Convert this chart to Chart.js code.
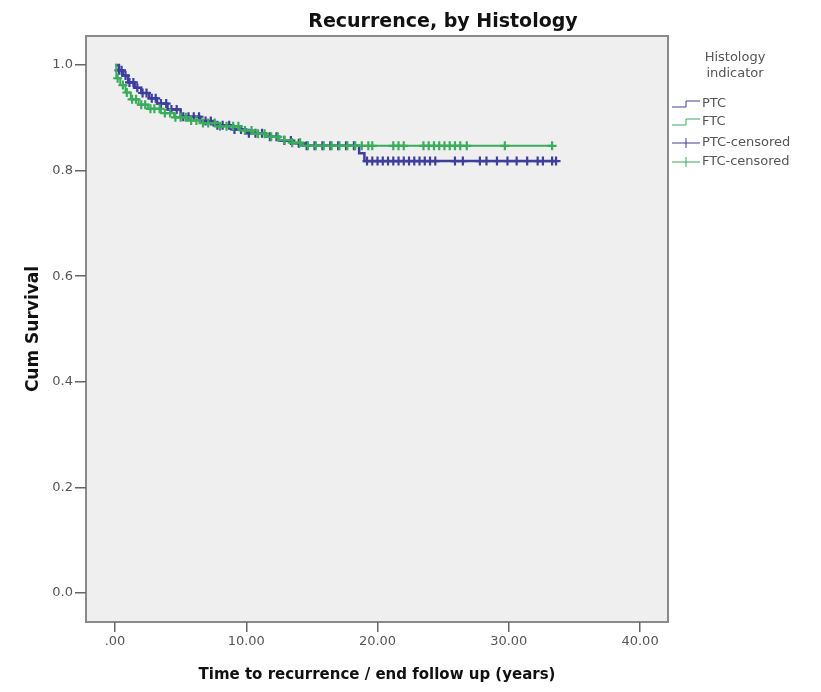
<!DOCTYPE html>
<html>
<head>
<meta charset="utf-8">
<script src="https://cdn.jsdelivr.net/npm/chart.js@4"></script>
<style>
  html, body { margin: 0; padding: 0; background: #ffffff; }
  #wrap { width: 821px; height: 692px; }
</style>
</head>
<body>
<div id="wrap"><canvas id="km" width="821" height="692"></canvas></div>
<script>
"use strict";

// Kaplan-Meier steps: time of each step and survival after it
const ptcTimes = [0, 0.3, 0.6, 1.0, 1.5, 2.0, 2.6, 3.2, 4.0, 5.0, 6.5, 7.5, 9.0, 10.0, 11.5, 12.5, 13.5, 14.5, 18.6, 19.0, 33.6];
const ptcSurv  = [1.0, 0.99, 0.98, 0.967, 0.957, 0.947, 0.937, 0.927, 0.916, 0.902, 0.894, 0.886, 0.878, 0.871, 0.864, 0.857, 0.852, 0.847, 0.833, 0.818, 0.818];

const ftcTimes = [0, 0.1, 0.4, 0.8, 1.2, 1.8, 2.5, 3.5, 4.5, 5.5, 6.5, 8.0, 9.5, 10.5, 11.5, 12.5, 13.5, 14.2, 33.3];
const ftcSurv  = [1.0, 0.975, 0.962, 0.948, 0.935, 0.925, 0.917, 0.909, 0.901, 0.895, 0.890, 0.884, 0.876, 0.870, 0.864, 0.858, 0.853, 0.847, 0.847];

// censored cases (times)
const ptcCensored = [0.3, 0.5, 0.8, 1.1, 1.4, 1.7, 2.1, 2.4, 2.8, 3.1, 3.5, 3.9, 4.3, 4.7, 5.2, 5.6, 6.0, 6.4, 6.9, 7.3, 7.8, 8.2,
  8.7, 9.1, 9.6, 10.2, 10.7, 11.2, 11.8, 12.3, 12.9, 13.4, 14.0, 14.6, 15.2, 15.8, 16.4, 17.0, 17.6, 18.2,
  19.2, 19.6, 20.0, 20.4, 20.8, 21.2, 21.6, 22.0, 22.4, 22.8, 23.2, 23.6, 24.0, 24.4,
  25.9, 26.5, 27.8, 28.3, 29.1, 29.9, 30.6, 31.4, 32.2, 32.6, 33.3, 33.6];
const ftcCensored = [0.2, 0.6, 0.9, 1.3, 1.6, 2.0, 2.3, 2.7, 3.0, 3.4, 3.8, 4.2, 4.6, 5.0, 5.4, 5.8, 6.2, 6.7, 7.1, 7.6, 8.0,
  8.5, 9.0, 9.4, 9.9, 10.4, 10.9, 11.4, 11.9, 12.4, 12.9, 13.5, 14.1, 14.7, 15.3, 15.9, 16.5, 17.1, 17.7, 18.3,
  18.8, 19.3, 19.6, 21.2, 21.6, 22.0, 23.5, 23.9, 24.3, 24.7, 25.1, 25.5, 25.9, 26.3, 26.8, 29.7, 33.3];

const xTicks = [0, 10, 20, 30, 40];
const xTickLabels = [".00", "10.00", "20.00", "30.00", "40.00"];
const yTicks = [0, 0.2, 0.4, 0.6, 0.8, 1.0];
const yTickLabels = ["0.0", "0.2", "0.4", "0.6", "0.8", "1.0"];

const PTC_COLOR = "#3d3f9c";
const FTC_COLOR = "#3aac5c";

// survival value on the step curve at time t
function survAt(times, surv, t) {
    var s = surv[0];
    for (var i = 0; i < times.length; i++) if (times[i] <= t) s = surv[i];
    return s;
}

const ptcLine = ptcTimes.map((t, i) => ({ x: t, y: ptcSurv[i] }));
const ftcLine = ftcTimes.map((t, i) => ({ x: t, y: ftcSurv[i] }));
const ptcMarks = ptcCensored.map(t => ({ x: t, y: survAt(ptcTimes, ptcSurv, t) }));
const ftcMarks = ftcCensored.map(t => ({ x: t, y: survAt(ftcTimes, ftcSurv, t) }));

Chart.defaults.font.family = "'DejaVu Sans', 'Liberation Sans', sans-serif";

// grey plot panel and frame
const panelPlugin = {
    id: "panel",
    beforeDraw(chart) {
        const a = chart.chartArea, ctx = chart.ctx;
        ctx.save();
        ctx.fillStyle = "#efefef";
        ctx.fillRect(a.left, a.top, a.right - a.left, a.bottom - a.top);
        ctx.strokeStyle = "#8a8a8a";
        ctx.lineWidth = 2;
        ctx.strokeRect(a.left, a.top, a.right - a.left, a.bottom - a.top);
        ctx.restore();
    }
};

// title and SPSS-like legend on the right
const textPlugin = {
    id: "texts",
    afterDraw(chart) {
        const ctx = chart.ctx;
        ctx.save();
        ctx.fillStyle = "#111";
        ctx.font = "bold 19px 'DejaVu Sans'";
        ctx.textAlign = "center";
        ctx.textBaseline = "middle";
        ctx.fillText("Recurrence, by Histology", 443, 22);

        ctx.fillStyle = "#555";
        ctx.font = "13px 'DejaVu Sans'";
        ctx.fillText("Histology", 735, 58);
        ctx.fillText("indicator", 735, 74);

        const rows = [104, 122, 143, 162];
        ctx.textAlign = "left";
        chart.data.datasets.forEach((ds, i) => {
            const y = rows[i];
            ctx.strokeStyle = ds.borderColor;
            ctx.lineWidth = 1;
            ctx.beginPath();
            if (ds.stepped) {
                ctx.moveTo(672, y + 3); ctx.lineTo(686, y + 3);
                ctx.lineTo(686, y - 3); ctx.lineTo(700, y - 3);
            } else {
                ctx.moveTo(672, y); ctx.lineTo(700, y);
                ctx.moveTo(686, y - 5); ctx.lineTo(686, y + 5);
            }
            ctx.stroke();
            ctx.fillStyle = "#555";
            ctx.fillText(ds.label, 702, y);
        });
        ctx.restore();
    }
};

new Chart(document.getElementById("km"), {
    type: "line",
    data: {
        datasets: [
            { label: "PTC", data: ptcLine, stepped: true, borderColor: PTC_COLOR, borderWidth: 2.5, pointRadius: 0, fill: false, order: 3 },
            { label: "FTC", data: ftcLine, stepped: true, borderColor: FTC_COLOR, borderWidth: 2, pointRadius: 0, fill: false, order: 1 },
            { label: "PTC-censored", data: ptcMarks, showLine: false, pointStyle: "cross", pointRadius: 4.5,
              borderColor: PTC_COLOR, backgroundColor: PTC_COLOR, pointBorderWidth: 2.2, order: 2 },
            { label: "FTC-censored", data: ftcMarks, showLine: false, pointStyle: "cross", pointRadius: 4.5,
              borderColor: FTC_COLOR, backgroundColor: FTC_COLOR, pointBorderWidth: 2.2, order: 0 }
        ]
    },
    options: {
        responsive: false,
        animation: false,
        layout: { padding: { top: 36, right: 153, left: 0, bottom: 0 } },
        plugins: {
            legend: { display: false },
            title: { display: false },
            tooltip: { enabled: false }
        },
        scales: {
            x: {
                type: "linear",
                min: -2.21,
                max: 42.13,
                afterBuildTicks: scale => { scale.ticks = xTicks.map(v => ({ value: v })); },
                afterFit: scale => { scale.height = 70; },
                ticks: {
                    color: "#555",
                    font: { size: 13 },
                    padding: 2,
                    maxRotation: 0,
                    callback: v => xTickLabels[xTicks.indexOf(v)]
                },
                grid: { drawOnChartArea: false, tickLength: 10, color: "#666", lineWidth: 1.5 },
                border: { display: false },
                title: {
                    display: true,
                    text: "Time to recurrence / end follow up (years)",
                    color: "#111",
                    font: { size: 15, weight: "bold" },
                    padding: { top: 0, bottom: 8 }
                }
            },
            y: {
                type: "linear",
                min: -0.055,
                max: 1.055,
                afterBuildTicks: scale => { scale.ticks = yTicks.map(v => ({ value: v })); },
                afterFit: scale => { scale.width = 86; },
                ticks: {
                    color: "#555",
                    font: { size: 13 },
                    padding: 2,
                    callback: v => yTickLabels[yTicks.indexOf(v)]
                },
                grid: { drawOnChartArea: false, tickLength: 11, color: "#666", lineWidth: 1.5 },
                border: { display: false },
                title: {
                    display: true,
                    text: "Cum Survival",
                    color: "#111",
                    font: { size: 17, weight: "bold" },
                    padding: { top: 23, bottom: 0 }
                }
            }
        }
    },
    plugins: [panelPlugin, textPlugin]
});
</script>
</body>
</html>
